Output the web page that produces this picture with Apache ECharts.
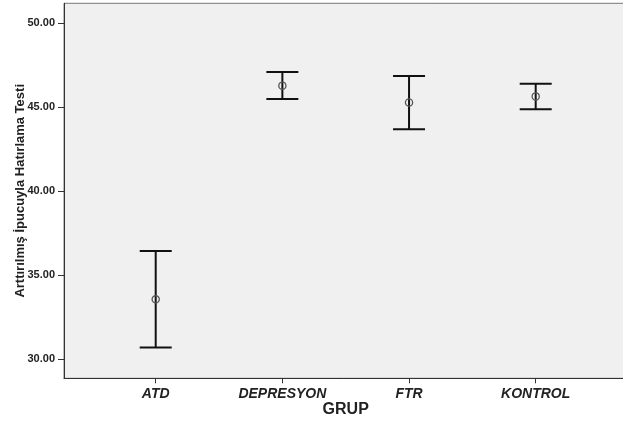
<!DOCTYPE html>
<html>
<head>
<meta charset="utf-8">
<script src="https://cdn.jsdelivr.net/npm/echarts@6/dist/echarts.min.js"></script>
<style>
html,body{margin:0;padding:0;background:#fff;}
#c{width:623px;height:430px;}
</style>
</head>
<body>
<div id="c"></div>
<script>
const categories = ['ATD', 'DEPRESYON', 'FTR', 'KONTROL'];
const means = [33.57, 46.29, 45.29, 45.65];
const lowerCI = [30.71, 45.49, 43.69, 44.88];
const upperCI = [36.45, 47.10, 46.86, 46.40];
const yTicks = [30, 35, 40, 45, 50];

const data = categories.map((c, i) => [i, lowerCI[i], means[i], upperCI[i]]);

const chart = echarts.init(document.getElementById('c'), null, {renderer: 'canvas'});
const FONT = '"Liberation Sans", Arial, sans-serif';

chart.setOption({
  animation: false,
  backgroundColor: '#ffffff',
  grid: {
    left: 64, top: 3.3, width: 563.4, height: 375,
    outerBoundsMode: 'none', containLabel: false,
    show: true, backgroundColor: '#f0f0f0', borderColor: '#777', borderWidth: 1
  },
  xAxis: {
    type: 'value',
    min: -0.724, max: 3.724,
    name: 'GRUP',
    nameLocation: 'middle',
    nameGap: 23,
    nameMoveOverlap: false,
    nameTextStyle: {fontFamily: FONT, fontWeight: 'bold', fontSize: 16, color: '#222', verticalAlign: 'top'},
    axisLine: {show: true, onZero: false, lineStyle: {color: '#333', width: 1}},
    axisTick: {show: true, customValues: [0, 1, 2, 3], length: 5, lineStyle: {color: '#333'}},
    axisLabel: {
      customValues: [0, 1, 2, 3],
      margin: 9,
      fontFamily: FONT, fontWeight: 'bold', fontStyle: 'italic', fontSize: 14, color: '#222',
      formatter: v => categories[Math.round(v)]
    },
    splitLine: {show: false}
  },
  yAxis: {
    type: 'value',
    min: 28.87, max: 51.19,
    name: 'Arttırılmış İpucuyla Hatırlama Testi',
    nameLocation: 'middle',
    nameGap: 37.5,
    nameMoveOverlap: false,
    nameTextStyle: {fontFamily: FONT, fontWeight: 'bold', fontSize: 13, color: '#222'},
    axisLine: {show: true, onZero: false, lineStyle: {color: '#333', width: 1}},
    axisTick: {show: true, customValues: yTicks, length: 6, lineStyle: {color: '#333'}},
    axisLabel: {
      customValues: yTicks,
      margin: 9,
      fontFamily: FONT, fontWeight: 'bold', fontSize: 11, color: '#222',
      formatter: v => v.toFixed(2)
    },
    splitLine: {show: false}
  },
  series: [{
    type: 'custom',
    data: data,
    encode: {x: 0, y: [1, 2, 3]},
    renderItem: function (params, api) {
      const x = api.value(0);
      const lo = api.coord([x, api.value(1)]);
      const mid = api.coord([x, api.value(2)]);
      const hi = api.coord([x, api.value(3)]);
      const hw = 16;
      const ls = {stroke: '#111', lineWidth: 2};
      return {
        type: 'group',
        children: [
          {type: 'line', shape: {x1: lo[0], y1: lo[1], x2: hi[0], y2: hi[1]}, style: ls},
          {type: 'line', shape: {x1: lo[0] - hw, y1: lo[1], x2: lo[0] + hw, y2: lo[1]}, style: ls},
          {type: 'line', shape: {x1: hi[0] - hw, y1: hi[1], x2: hi[0] + hw, y2: hi[1]}, style: ls},
          {type: 'circle', shape: {cx: mid[0], cy: mid[1], r: 3.6}, style: {fill: null, stroke: '#555', lineWidth: 1.3}}
        ]
      };
    }
  }]
});
</script>
</body>
</html>
